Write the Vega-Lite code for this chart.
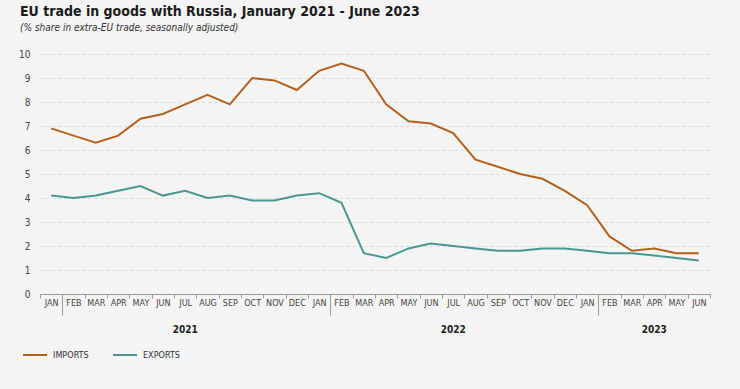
{
  "$schema": "https://vega.github.io/schema/vega-lite/v6.json",
  "autosize": "none",
  "width": 670,
  "height": 240,
  "padding": {"left": 40, "top": 54, "right": 30, "bottom": 95},
  "background": "#f4f4f4",
  "title": {
    "text": "EU trade in goods with Russia, January 2021 - June 2023",
    "subtitle": "(% share in extra-EU trade, seasonally adjusted)",
    "anchor": "start",
    "frame": "group",
    "dx": -20,
    "offset": 16,
    "font": "DejaVu Sans Condensed, Liberation Sans, sans-serif",
    "fontSize": 14,
    "fontWeight": "bold",
    "color": "#1a1a1a",
    "subtitleFont": "DejaVu Sans Condensed, Liberation Sans, sans-serif",
    "subtitleFontSize": 10,
    "subtitleFontStyle": "italic",
    "subtitleColor": "#333333",
    "subtitlePadding": 4
  },
  "config": {
    "view": {"stroke": null},
    "font": "DejaVu Sans Condensed, Liberation Sans, sans-serif"
  },
  "data": {
    "values": [
      {"m": "2021-01", "s": "IMPORTS", "v": 6.9}, {"m": "2021-02", "s": "IMPORTS", "v": 6.6},
      {"m": "2021-03", "s": "IMPORTS", "v": 6.3}, {"m": "2021-04", "s": "IMPORTS", "v": 6.6},
      {"m": "2021-05", "s": "IMPORTS", "v": 7.3}, {"m": "2021-06", "s": "IMPORTS", "v": 7.5},
      {"m": "2021-07", "s": "IMPORTS", "v": 7.9}, {"m": "2021-08", "s": "IMPORTS", "v": 8.3},
      {"m": "2021-09", "s": "IMPORTS", "v": 7.9}, {"m": "2021-10", "s": "IMPORTS", "v": 9.0},
      {"m": "2021-11", "s": "IMPORTS", "v": 8.9}, {"m": "2021-12", "s": "IMPORTS", "v": 8.5},
      {"m": "2022-01", "s": "IMPORTS", "v": 9.3}, {"m": "2022-02", "s": "IMPORTS", "v": 9.6},
      {"m": "2022-03", "s": "IMPORTS", "v": 9.3}, {"m": "2022-04", "s": "IMPORTS", "v": 7.9},
      {"m": "2022-05", "s": "IMPORTS", "v": 7.2}, {"m": "2022-06", "s": "IMPORTS", "v": 7.1},
      {"m": "2022-07", "s": "IMPORTS", "v": 6.7}, {"m": "2022-08", "s": "IMPORTS", "v": 5.6},
      {"m": "2022-09", "s": "IMPORTS", "v": 5.3}, {"m": "2022-10", "s": "IMPORTS", "v": 5.0},
      {"m": "2022-11", "s": "IMPORTS", "v": 4.8}, {"m": "2022-12", "s": "IMPORTS", "v": 4.3},
      {"m": "2023-01", "s": "IMPORTS", "v": 3.7}, {"m": "2023-02", "s": "IMPORTS", "v": 2.4},
      {"m": "2023-03", "s": "IMPORTS", "v": 1.8}, {"m": "2023-04", "s": "IMPORTS", "v": 1.9},
      {"m": "2023-05", "s": "IMPORTS", "v": 1.7}, {"m": "2023-06", "s": "IMPORTS", "v": 1.7},
      {"m": "2021-01", "s": "EXPORTS", "v": 4.1}, {"m": "2021-02", "s": "EXPORTS", "v": 4.0},
      {"m": "2021-03", "s": "EXPORTS", "v": 4.1}, {"m": "2021-04", "s": "EXPORTS", "v": 4.3},
      {"m": "2021-05", "s": "EXPORTS", "v": 4.5}, {"m": "2021-06", "s": "EXPORTS", "v": 4.1},
      {"m": "2021-07", "s": "EXPORTS", "v": 4.3}, {"m": "2021-08", "s": "EXPORTS", "v": 4.0},
      {"m": "2021-09", "s": "EXPORTS", "v": 4.1}, {"m": "2021-10", "s": "EXPORTS", "v": 3.9},
      {"m": "2021-11", "s": "EXPORTS", "v": 3.9}, {"m": "2021-12", "s": "EXPORTS", "v": 4.1},
      {"m": "2022-01", "s": "EXPORTS", "v": 4.2}, {"m": "2022-02", "s": "EXPORTS", "v": 3.8},
      {"m": "2022-03", "s": "EXPORTS", "v": 1.7}, {"m": "2022-04", "s": "EXPORTS", "v": 1.5},
      {"m": "2022-05", "s": "EXPORTS", "v": 1.9}, {"m": "2022-06", "s": "EXPORTS", "v": 2.1},
      {"m": "2022-07", "s": "EXPORTS", "v": 2.0}, {"m": "2022-08", "s": "EXPORTS", "v": 1.9},
      {"m": "2022-09", "s": "EXPORTS", "v": 1.8}, {"m": "2022-10", "s": "EXPORTS", "v": 1.8},
      {"m": "2022-11", "s": "EXPORTS", "v": 1.9}, {"m": "2022-12", "s": "EXPORTS", "v": 1.9},
      {"m": "2023-01", "s": "EXPORTS", "v": 1.8}, {"m": "2023-02", "s": "EXPORTS", "v": 1.7},
      {"m": "2023-03", "s": "EXPORTS", "v": 1.7}, {"m": "2023-04", "s": "EXPORTS", "v": 1.6},
      {"m": "2023-05", "s": "EXPORTS", "v": 1.5}, {"m": "2023-06", "s": "EXPORTS", "v": 1.4}
    ]
  },
  "resolve": {"axis": {"x": "independent"}},
  "layer": [
    {
      "mark": {"type": "line", "strokeWidth": 2},
      "encoding": {
        "x": {
          "field": "m",
          "type": "ordinal",
          "scale": {"type": "band", "paddingInner": 0, "paddingOuter": 0},
          "axis": {
            "title": null,
            "orient": "bottom",
            "tickBand": "extent",
            "labelAngle": 0,
            "labelExpr": "['JAN','FEB','MAR','APR','MAY','JUN','JUL','AUG','SEP','OCT','NOV','DEC'][toNumber(slice(''+datum.value,5))-1]",
            "labelFontSize": 9,
            "labelColor": "#444444",
            "labelPadding": {"condition": {"test": "indexof(''+datum.value,'-01')>0", "value": -17}, "value": 0},
            "domainColor": "#9a9a9a",
            "tickColor": "#9a9a9a",
            "tickSize": {"condition": {"test": "indexof(''+datum.value,'-01')>0", "value": 21}, "value": 4},
            "grid": false
          }
        },
        "y": {
          "field": "v",
          "type": "quantitative",
          "scale": {"domain": [0, 10]},
          "axis": {
            "title": null,
            "values": [0,1,2,3,4,5,6,7,8,9,10],
            "domain": false,
            "ticks": false,
            "labelPadding": 10,
            "labelFontSize": 10,
            "labelColor": "#444444",
            "gridColor": "#d8d8d8",
            "gridDash": [3, 3]
          }
        },
        "color": {
          "field": "s",
          "type": "nominal",
          "scale": {"domain": ["IMPORTS", "EXPORTS"], "range": ["#b5601c", "#4a9792"]},
          "legend": {
            "title": null,
            "orient": "none",
            "legendX": -18,
            "legendY": 288,
            "direction": "horizontal",
            "symbolType": "stroke",
            "symbolSize": 576,
            "symbolStrokeWidth": 2,
            "labelFontSize": 9,
            "labelColor": "#333333",
            "labelOffset": 5,
            "columnPadding": 20
          }
        }
      }
    },
    {
      "mark": {"type": "point", "opacity": 0},
      "encoding": {
        "x": {
          "field": "m",
          "type": "ordinal",
          "axis": {
            "title": null,
            "orient": "bottom",
            "values": ["2021-07", "2022-07", "2023-04"],
            "bandPosition": 0,
            "labelExpr": "slice(''+datum.value,0,4)",
            "labelAngle": 0,
            "labelFontSize": 10,
            "labelFontWeight": "bold",
            "labelColor": "#222222",
            "ticks": false,
            "domain": false,
            "grid": false,
            "labelPadding": 0,
            "offset": 30
          }
        }
      }
    }
  ]
}
